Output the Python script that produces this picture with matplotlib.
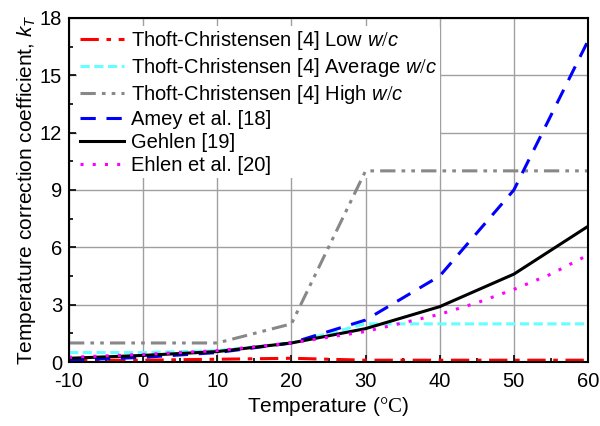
import matplotlib
matplotlib.use('Agg')
from matplotlib import pyplot as plt
from matplotlib.ticker import MultipleLocator

plt.rcParams['font.family'] = ['Liberation Sans', 'DejaVu Sans']
plt.rcParams['mathtext.fontset'] = 'custom'
plt.rcParams['mathtext.it'] = 'Liberation Sans:italic'
plt.rcParams['mathtext.rm'] = 'Liberation Serif'
plt.rcParams['axes.unicode_minus'] = False

temps = [-10, 0, 10, 20, 30, 40, 50, 60]
tc_low = [0.1, 0.1, 0.15, 0.2, 0.1, 0.1, 0.1, 0.1]
tc_avg = [0.5, 0.5, 0.6, 1.0, 2.0, 2.0, 2.0, 2.0]
tc_high = [1.0, 1.0, 1.0, 2.0, 10.0, 10.0, 10.0, 10.0]
amey = [0.1, 0.25, 0.5, 1.0, 2.2, 4.5, 9.0, 16.8]
gehlen = [0.2, 0.35, 0.55, 1.0, 1.75, 2.9, 4.6, 7.1]
ehlen_t = [-10, 0, 10, 20, 30, 40, 45, 50, 55, 60]
ehlen = [0.25, 0.4, 0.6, 1.0, 1.6, 2.5, 3.1, 3.8, 4.6, 5.6]

fig = plt.figure(figsize=(6, 4.26), dpi=100)
ax = fig.add_axes([0.115, 0.15, 0.865, 0.808])

lw = 2.2
ax.plot(temps, tc_low, color='#ff0000', lw=lw, ls=(0, (6, 2.5, 1.5, 2.5)),
        label='Thoft-Christensen [4] Low $w/c$')
ax.plot(temps, tc_avg, color='#66ffff', lw=lw, ls=(0, (3, 1.5)),
        label='Thoft-Christensen [4] Average $w/c$')
ax.plot(temps, tc_high, color='#888888', lw=lw, ls=(0, (5, 2, 1.2, 2, 1.2, 2)),
        label='Thoft-Christensen [4] High $w/c$')
ax.plot(temps, amey, color='#0000ff', lw=lw, ls=(0, (5, 3.5)),
        label='Amey et al. [18]')
ax.plot(temps, gehlen, color='black', lw=lw, label='Gehlen [19]')
ax.plot(ehlen_t, ehlen, color='#ff00ff', lw=lw, ls=(0, (1, 3)),
        label='Ehlen et al. [20]')

ax.set_xlim(-10, 60)
ax.set_ylim(0, 18)
ax.xaxis.set_major_locator(MultipleLocator(10))
ax.xaxis.set_minor_locator(MultipleLocator(5))
ax.yaxis.set_major_locator(MultipleLocator(3))
ax.yaxis.set_minor_locator(MultipleLocator(1.5))
ax.grid(True, which='major', color='#a0a0a0', lw=1)
ax.tick_params(which='both', direction='in', labelsize=14.5, width=1.2)
ax.tick_params(which='major', length=5)
ax.tick_params(which='minor', length=3)
ax.tick_params(axis='x', which='both', pad=7)
ax.tick_params(axis='y', which='both', pad=5)
for s in ax.spines.values():
    s.set_linewidth(1.5)

ax.set_xlabel('Temperature ($\\mathrm{°C}$)', fontsize=15, labelpad=3)
ax.set_ylabel('Temperature correction coefficient, $k_T$', fontsize=15,
              labelpad=1)

leg = ax.legend(loc='upper left', fontsize=14.5, frameon=True, framealpha=1,
                edgecolor='none', borderpad=0.15, labelspacing=0.2,
                handlelength=2.2, handletextpad=0.35, borderaxespad=0.4)
leg.get_frame().set_facecolor('white')
leg.set_zorder(1.5)

fig.savefig('out.png', dpi=100)
